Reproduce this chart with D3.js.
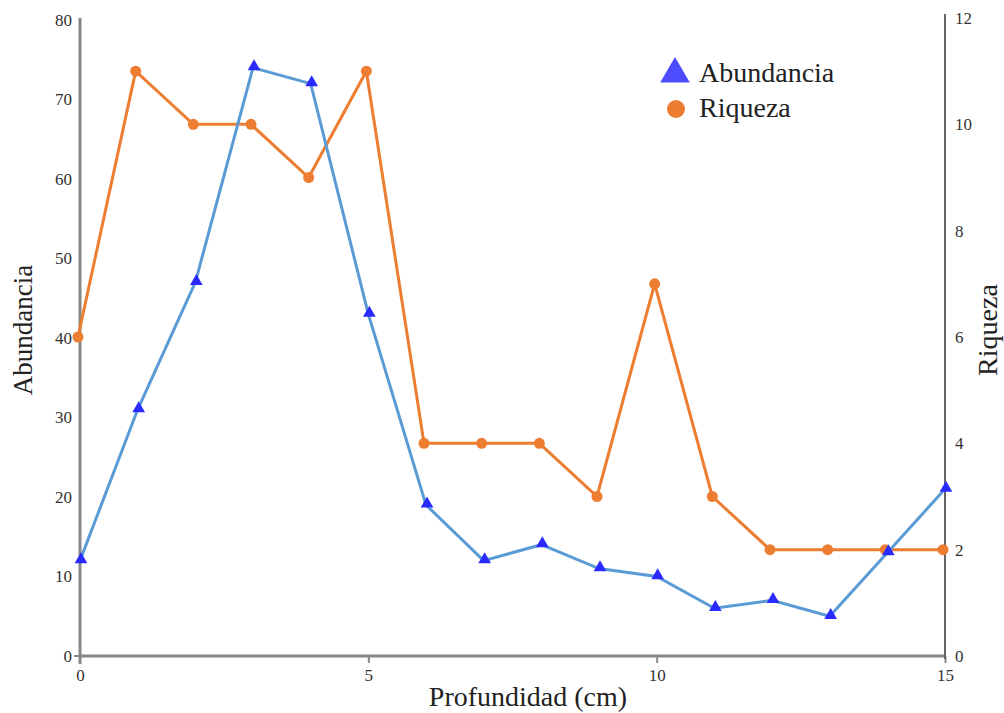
<!DOCTYPE html>
<html>
<head>
<meta charset="utf-8">
<script src="https://cdn.jsdelivr.net/npm/d3@7"></script>
<style>
  body { margin: 0; background: #fff; }
  text { font-family: "Liberation Serif", "DejaVu Serif", serif; }
</style>
</head>
<body>
<script>
// data
var profundidad = [0, 1, 2, 3, 4, 5, 6, 7, 8, 9, 10, 11, 12, 13, 14, 15];
var abundancia = [12, 31, 47, 74, 72, 43, 19, 12, 14, 11, 10, 6, 7, 5, 13, 21];
var riqueza = [6, 11, 10, 10, 9, 11, 4, 4, 4, 3, 7, 3, 2, 2, 2, 2];
var xTicks = [0, 5, 10, 15];
var leftTicks = [0, 10, 20, 30, 40, 50, 60, 70, 80];
var rightTicks = [0, 2, 4, 6, 8, 10, 12];

var width = 1004, height = 713;
var mLeft = 80, mRight = 945, mTop = 20, mBottom = 656;

var svg = d3.select("body").append("svg")
    .attr("width", width)
    .attr("height", height);

var x = d3.scaleLinear().domain([0, 15]).range([mLeft, mRight]);
var yL = d3.scaleLinear().domain([0, 80]).range([mBottom, mTop]);
var yR = d3.scaleLinear().domain([0, 12]).range([mBottom, 18]);

// axes
var xAxis = svg.append("g")
    .attr("transform", "translate(0," + mBottom + ")")
    .call(d3.axisBottom(x).tickValues(xTicks).tickSize(7).tickPadding(6));
var lAxis = svg.append("g")
    .attr("transform", "translate(" + mLeft + ",0)")
    .call(d3.axisLeft(yL).tickValues(leftTicks).tickSize(0).tickPadding(8));
var rAxis = svg.append("g")
    .attr("transform", "translate(" + mRight + ",0)")
    .call(d3.axisRight(yR).tickValues(rightTicks).tickSize(0).tickPadding(10));

[xAxis, lAxis, rAxis].forEach(function (a) {
    a.select(".domain").remove();
    a.selectAll("text")
        .style("font-family", "Liberation Serif, serif")
        .style("font-size", "17px")
        .attr("fill", "#333");
    a.selectAll(".tick line").attr("stroke", "#888").attr("stroke-width", 2);
});
xAxis.selectAll(".tick").filter(function (d) { return d === 0; }).select("line").remove();

svg.append("line").attr("x1", mLeft).attr("x2", mRight).attr("y1", mBottom).attr("y2", mBottom)
    .attr("stroke", "#888").attr("stroke-width", 3);
svg.append("line").attr("x1", mLeft).attr("x2", mLeft).attr("y1", mTop - 2).attr("y2", mBottom + 8)
    .attr("stroke", "#888").attr("stroke-width", 3);
svg.append("line").attr("x1", mLeft).attr("x2", mLeft - 6).attr("y1", mBottom).attr("y2", mBottom)
    .attr("stroke", "#888").attr("stroke-width", 2);
svg.append("line").attr("x1", mRight).attr("x2", mRight).attr("y1", 14).attr("y2", mBottom + 3)
    .attr("stroke", "#666").attr("stroke-width", 2);

// lines
var lineA = d3.line().x(function (d, i) { return x(profundidad[i]); }).y(function (d) { return yL(d); });
var lineR = d3.line().x(function (d, i) { return x(profundidad[i]) - 2; }).y(function (d) { return yR(d); });

svg.append("path").datum(riqueza)
    .attr("d", lineR)
    .attr("fill", "none")
    .attr("stroke", "#ed7d31")
    .attr("stroke-width", 3);

svg.append("path").datum(abundancia)
    .attr("d", lineA)
    .attr("fill", "none")
    .attr("stroke", "#5b9bd5")
    .attr("stroke-width", 3);

svg.selectAll(".pR").data(riqueza).enter().append("circle")
    .attr("cx", function (d, i) { return x(profundidad[i]) - 2; })
    .attr("cy", function (d) { return yR(d); })
    .attr("r", 5.5)
    .attr("fill", "#ed7d31");

var tri = d3.symbol().type(d3.symbolTriangle).size(70);
svg.selectAll(".pA").data(abundancia).enter().append("path")
    .attr("d", tri)
    .attr("transform", function (d, i) { return "translate(" + (x(profundidad[i]) + 1) + "," + (yL(d) - 1) + ")"; })
    .attr("fill", "#2a2aff");

// titles
svg.append("text")
    .attr("x", 528).attr("y", 706)
    .attr("text-anchor", "middle")
    .style("font-size", "28px")
    .attr("fill", "#222")
    .text("Profundidad (cm)");

svg.append("text")
    .attr("transform", "translate(32,330) rotate(-90)")
    .attr("text-anchor", "middle")
    .style("font-size", "27px")
    .attr("fill", "#222")
    .text("Abundancia");

svg.append("text")
    .attr("transform", "translate(997,330) rotate(-90)")
    .attr("text-anchor", "middle")
    .style("font-size", "28px")
    .attr("fill", "#222")
    .text("Riqueza");

// legend
var legend = svg.append("g").attr("transform", "translate(675,0)");
legend.append("path")
    .attr("d", d3.symbol().type(d3.symbolTriangle).size(380))
    .attr("transform", "translate(0,74)")
    .attr("fill", "#4d4dff");
legend.append("text").attr("x", 24).attr("y", 82)
    .style("font-size", "28px").attr("fill", "#222").text("Abundancia");
legend.append("circle").attr("cx", 1).attr("cy", 109).attr("r", 9).attr("fill", "#ed7d31");
legend.append("text").attr("x", 24).attr("y", 117)
    .style("font-size", "28px").attr("fill", "#222").text("Riqueza");
</script>
</body>
</html>
